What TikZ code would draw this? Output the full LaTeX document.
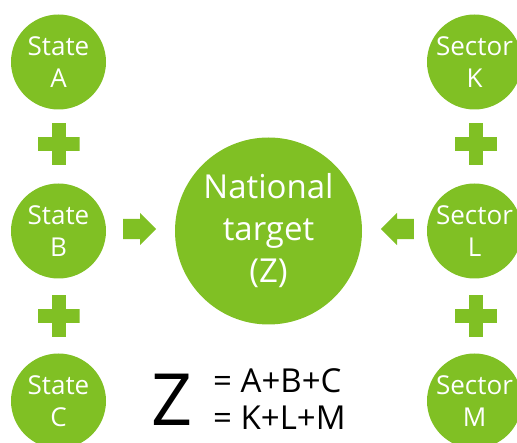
\documentclass[tikz,border=0pt]{standalone}
\usepackage{fontspec}
\setmainfont{Open Sans}
\usepackage{xcolor}
\usepackage{tikz}
\usetikzlibrary{shapes,shapes.arrows,calc,positioning}
\definecolor{leafgreen}{RGB}{128,192,36}
\tikzset{
  circ_s/.style = {circle, fill=leafgreen, text=white, inner sep=0pt, minimum size=95pt, align=center, font=\fontsize{26}{32}\selectfont},
  circ_z/.style = {circle, fill=leafgreen, text=white, inner sep=0pt, minimum size=187pt, align=center, font=\fontsize{33}{42}\selectfont},
  plus_n/.style = {inner sep=0pt, minimum size=42pt,
    path picture={
      \fill[leafgreen] ($(path picture bounding box.center)+(-21pt,-7pt)$) rectangle +(42pt,14pt);
      \fill[leafgreen] ($(path picture bounding box.center)+(-7pt,-21pt)$) rectangle +(14pt,42pt);
    }},
  arr_n/.style = {single arrow, fill=leafgreen, inner sep=10pt, minimum height=33pt, single arrow head extend=6pt, single arrow head indent=0pt},
  sum_n/.style = {font=\fontsize{33}{37}\selectfont, inner sep=0pt, anchor=base west}
}
\begin{document}
\begin{tikzpicture}[x=1pt,y=-1pt]
  \useasboundingbox (0,0) rectangle (517,443);
  \clip (0,0) rectangle (517,443);
  % states on the left
  \node [circ_s] (stA) at (58.5,62)  {State\\A};
  \node [circ_s] (stB) at (58.5,231) {State\\B};
  \node [circ_s] (stC) at (58.5,401) {State\\C};
  \node [plus_n] (plAB) at (58.5,144) {};
  \node [plus_n] (plBC) at (58.5,316) {};
  % sectors on the right
  \node [circ_s] (scK) at (474.5,62)  {Sector\\K};
  \node [circ_s] (scL) at (474.5,231) {Sector\\L};
  \node [circ_s] (scM) at (474.5,401) {Sector\\M};
  \node [plus_n] (plKL) at (476,144) {};
  \node [plus_n] (plLM) at (476,316) {};
  % national target
  \node [circ_z] (natZ) at (268.5,231) {National\\target\\(Z)};
  \node [arr_n, anchor=tail] (arB) at (123,229) {};
  \node [arr_n, shape border rotate=180, anchor=tail] (arL) at (414,229) {};
  % sum
  \node [font=\fontsize{72}{72}\selectfont, inner sep=0pt] (bigZ) at (172,400) {Z};
  \node [sum_n] (sumA) at (213,393) {= A+B+C};
  \node [sum_n] (sumK) at (213,430) {= K+L+M};
\end{tikzpicture}
\end{document}
